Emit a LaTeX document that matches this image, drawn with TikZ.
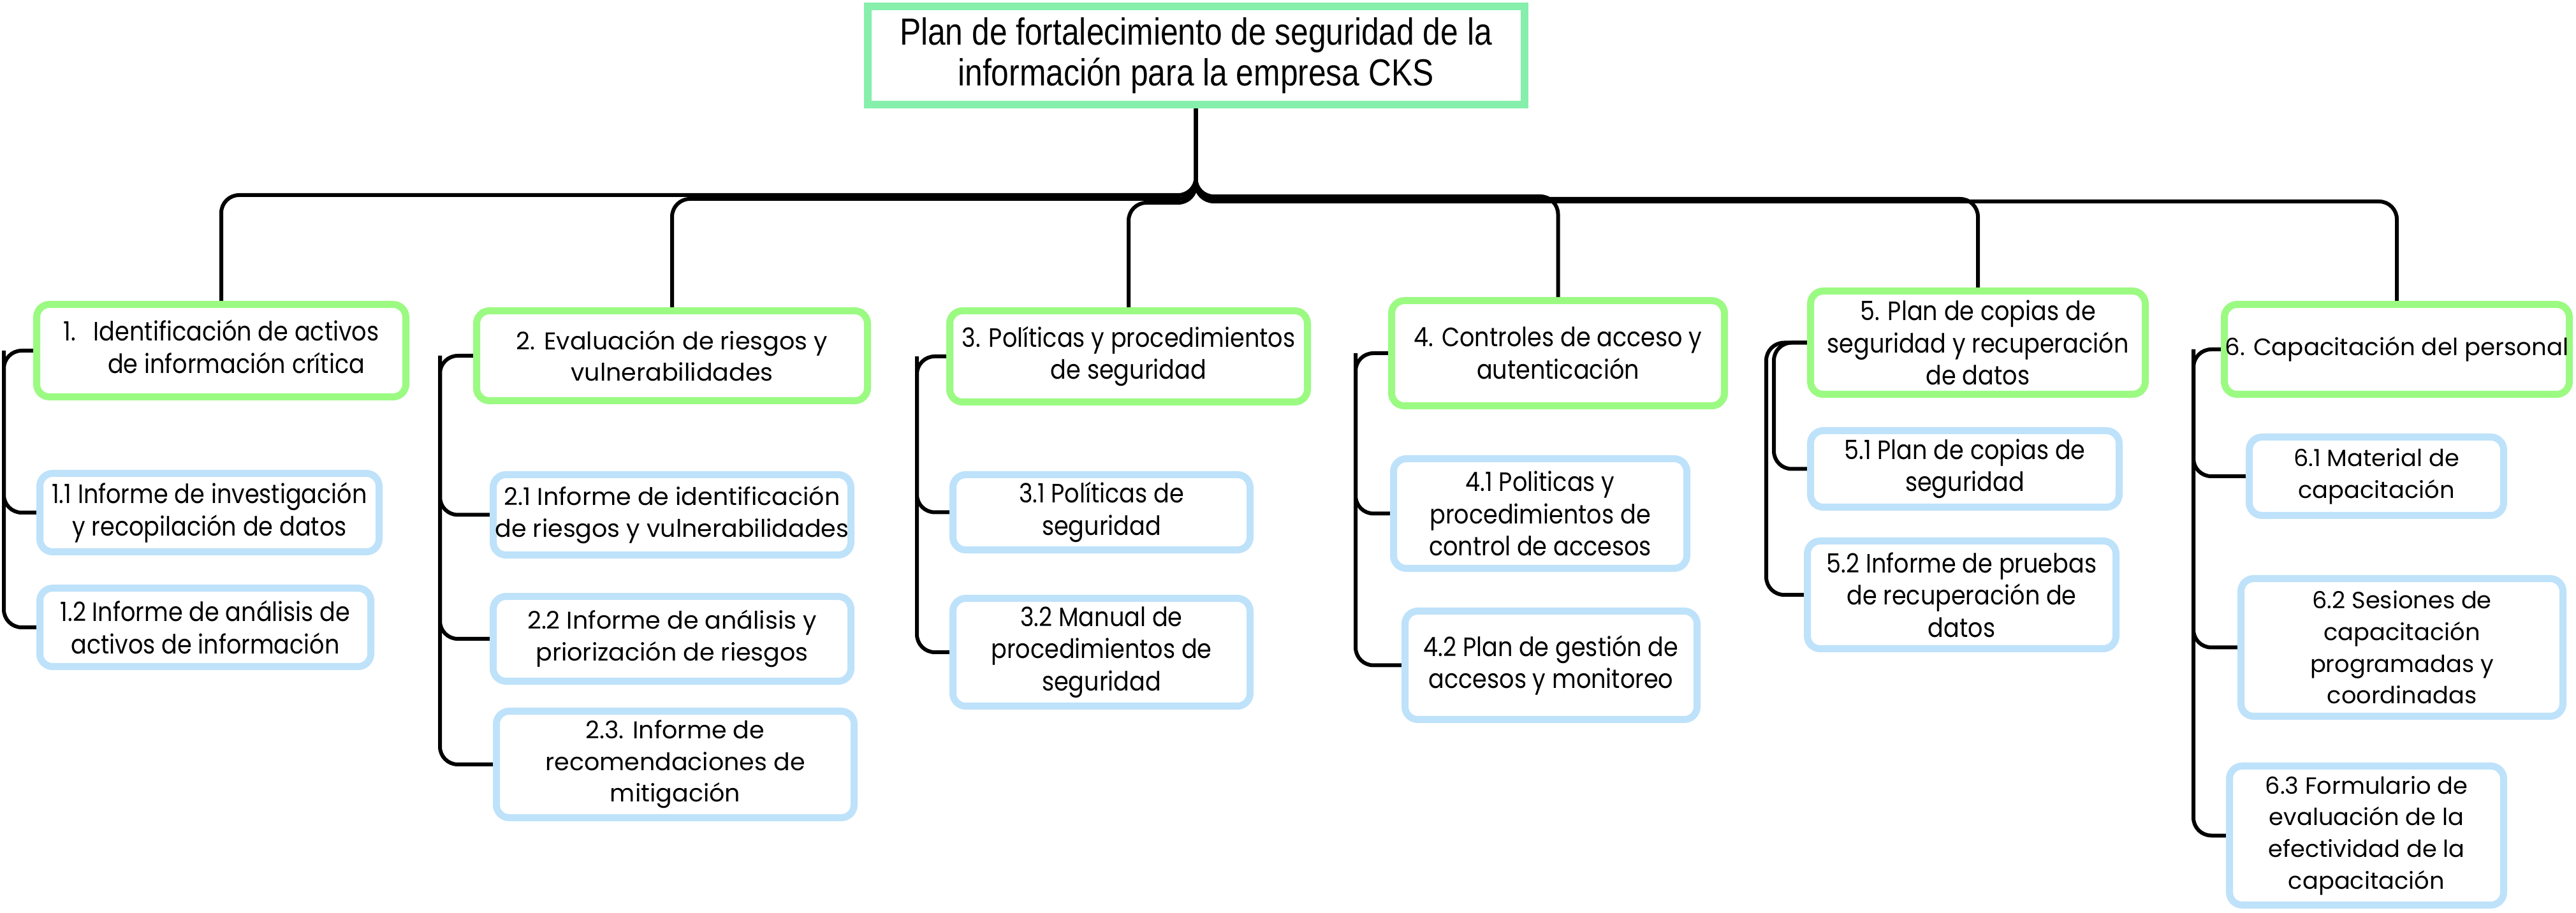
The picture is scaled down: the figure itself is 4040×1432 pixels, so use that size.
\documentclass[tikz,border=0pt]{standalone}
\usepackage{fontspec}
\setmainfont{Poppins}[FakeStretch=0.88]
\newfontfamily\rootfont{Liberation Sans}[FakeStretch=0.84]
\newfontfamily\widefont{Poppins}
\usetikzlibrary{backgrounds}
\definecolor{rootgreen}{RGB}{134,239,172}
\definecolor{lvlgreen}{RGB}{155,250,130}
\definecolor{subblue}{RGB}{190,226,250}
\tikzset{
  conn/.style={draw=black, line width=1.5pt, rounded corners=7pt},
  rootbox/.style={draw=rootgreen, line width=3pt, fill=white, inner sep=0pt, align=center,
    font=\rootfont\fontsize{14.8}{16}\selectfont},
  lvlbox/.style={draw=lvlgreen, line width=2.75pt, rounded corners=5pt, fill=white, inner sep=0pt,
    align=center, font=\fontsize{10.4}{12.6}\selectfont},
  subbox/.style={lvlbox, draw=subblue},
  wide/.style={font=\widefont\fontsize{9.2}{12.4}\selectfont},
  widetwo/.style={font=\widefont\fontsize{9.5}{12.4}\selectfont},
  widesix/.style={font=\widefont\fontsize{9.3}{12.4}\selectfont},
}
\newcommand\bx[7]{\node[#6, minimum width={(#4-#2-11)*0.25pt}, minimum height={(#5-#3-11)*0.25pt}] (#1) at ({(#2+#4)/2},{(#3+#5)/2}) {#7};}
\begin{document}
\begin{tikzpicture}[x=0.25pt, y=-0.25pt]
\useasboundingbox (0,0) rectangle (4040,1432);
% root
\bx{root}{1355}{5}{2396}{170}{rootbox}{Plan de fortalecimiento de seguridad de la\\información para la empresa CKS}
% level 1
\bx{b1}{52}{472}{642}{628}{lvlbox}{\begin{tabular}{@{}l@{\hspace{7pt}}c@{}}1.&Identificación de activos\\&de información crítica\end{tabular}}
\bx{b2}{742}{482}{1366}{634}{lvlbox,widetwo}{2. Evaluación de riesgos y\\vulnerabilidades}
\bx{b3}{1484}{482}{2056}{636}{lvlbox}{3. Políticas y procedimientos\\de seguridad}
\bx{b4}{2177}{466}{2710}{642}{lvlbox}{4. Controles de acceso y\\autenticación}
\bx{b5}{2834}{451}{3370}{624}{lvlbox}{5. Plan de copias de\\seguridad y recuperación\\de datos}
\bx{b6}{3483}{472}{4035}{624}{lvlbox,widesix}{6. Capacitación del personal}
% level 2
\bx{c11}{57}{737}{600}{871}{subbox}{1.1 Informe de investigación\\y recopilación de datos}
\bx{c12}{57}{917}{587}{1051}{subbox}{1.2 Informe de análisis de\\activos de información}
\bx{c21}{768}{739}{1340}{876}{subbox,widetwo}{2.1 Informe de identificación\\de riesgos y vulnerabilidades}
\bx{c22}{768}{930}{1340}{1074}{subbox,widetwo}{2.2 Informe de análisis y\\priorización de riesgos}
\bx{c23}{773}{1110}{1345}{1288}{subbox,widetwo}{2.3. Informe de\\recomendaciones de\\mitigación}
\bx{c31}{1489}{739}{1966}{868}{subbox}{3.1 Políticas de\\seguridad}
\bx{c32}{1489}{933}{1966}{1113}{subbox}{3.2 Manual de\\procedimientos de\\seguridad}
\bx{c41}{2180}{714}{2651}{897}{subbox}{4.1 Politicas y\\procedimientos de\\control de accesos}
\bx{c42}{2198}{953}{2667}{1134}{subbox}{4.2 Plan de gestión de\\accesos y monitoreo}
\bx{c51}{2834}{670}{3329}{801}{subbox}{5.1 Plan de copias de\\seguridad}
\bx{c52}{2829}{843}{3324}{1023}{subbox}{5.2 Informe de pruebas\\de recuperación de\\datos}
\bx{c61}{3522}{680}{3932}{814}{subbox,wide}{6.1 Material de\\capacitación}
\bx{c62}{3509}{902}{4025}{1129}{subbox,wide}{6.2 Sesiones de\\capacitación\\programadas y\\coordinadas}
\bx{c63}{3491}{1196}{3932}{1425}{subbox,wide}{6.3 Formulario de\\evaluación de la\\efectividad de la\\capacitación}
% connectors
\begin{scope}[on background layer]
\fill[white] (0,0) rectangle (4040,1432);
\coordinate (h1) at (0,306);
\coordinate (h2) at (0,312);
\coordinate (h3) at (0,318);
\coordinate (h4) at (0,308);
\coordinate (h5) at (0,312);
\coordinate (h6) at (0,316);
\draw[conn] (root.south) -- (root.south |- h1) -- (b1.north |- h1) -- (b1.north);
\draw[conn] (root.south) -- (root.south |- h2) -- (b2.north |- h2) -- (b2.north);
\draw[conn] (root.south) -- (root.south |- h3) -- (b3.north |- h3) -- (b3.north);
\draw[conn] (root.south) -- (root.south |- h4) -- (b4.north |- h4) -- (b4.north);
\draw[conn] (root.south) -- (root.south |- h5) -- (b5.north |- h5) -- (b5.north);
\draw[conn] (root.south) -- (root.south |- h6) -- (b6.north |- h6) -- (b6.north);
% brackets
\coordinate (k1) at (6,0);
\coordinate (k2) at (690,0);
\coordinate (k3) at (1438,0);
\coordinate (k4) at (2126,0);
\coordinate (k5a) at (2782,0);
\coordinate (k5b) at (2770,0);
\coordinate (k6) at (3440,0);
\draw[conn] (b1.west) -- (b1.west -| k1) -- (c12.west -| k1) -- (c12.west);
\draw[conn] (b1.west -| k1) -- (c11.west -| k1) -- (c11.west);
\draw[conn] (b2.west) -- (b2.west -| k2) -- (c23.west -| k2) -- (c23.west);
\draw[conn] (b2.west -| k2) -- (c21.west -| k2) -- (c21.west);
\draw[conn] (b2.west -| k2) -- (c22.west -| k2) -- (c22.west);
\draw[conn] (b3.west) -- (b3.west -| k3) -- (c32.west -| k3) -- (c32.west);
\draw[conn] (b3.west -| k3) -- (c31.west -| k3) -- (c31.west);
\draw[conn] (b4.west) -- (b4.west -| k4) -- (c42.west -| k4) -- (c42.west);
\draw[conn] (b4.west -| k4) -- (c41.west -| k4) -- (c41.west);
\draw[conn] (b5.west) -- (b5.west -| k5a) -- (c51.west -| k5a) -- (c51.west);
\draw[conn] (b5.west) -- (b5.west -| k5b) -- (c52.west -| k5b) -- (c52.west);
\draw[conn] (b6.west) -- (b6.west -| k6) -- (c63.west -| k6) -- (c63.west);
\draw[conn] (b6.west -| k6) -- (c61.west -| k6) -- (c61.west);
\draw[conn] (b6.west -| k6) -- (c62.west -| k6) -- (c62.west);
\end{scope}
\end{tikzpicture}
\end{document}
